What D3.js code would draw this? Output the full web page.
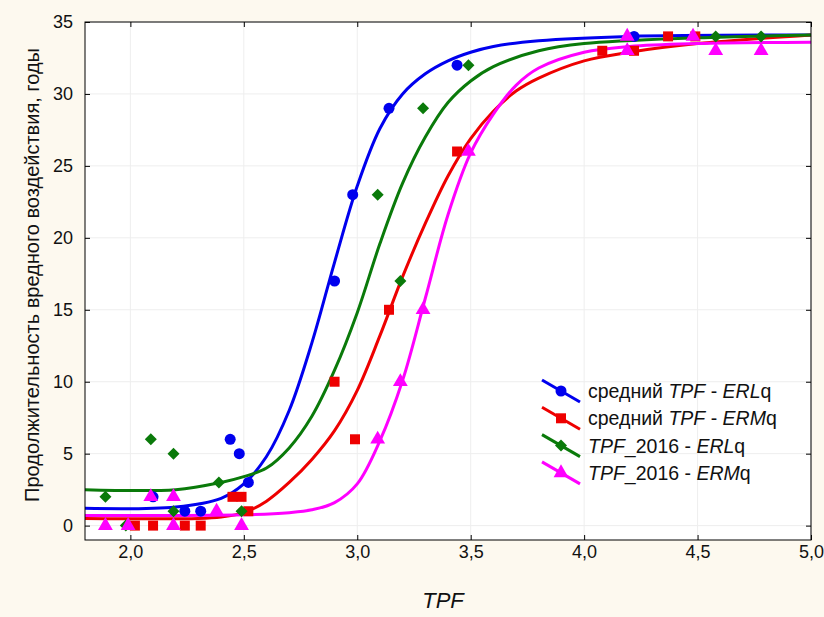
<!DOCTYPE html>
<html>
<head>
<meta charset="utf-8">
<script src="https://cdn.jsdelivr.net/npm/d3@7"></script>
<style>
  body { margin: 0; background: #fdf9ef; }
  svg { display: block; font-family: "Liberation Sans", Arial, sans-serif; }
</style>
</head>
<body>
<svg id="chart"></svg>
<script>
// ticks
const xTicks = [2.0, 2.5, 3.0, 3.5, 4.0, 4.5, 5.0];
const yTicks = [0, 5, 10, 15, 20, 25, 30, 35];

// observed points [TPF, years]
const blueERL = [[2.1,2],[2.24,1],[2.31,1],[2.44,6],[2.48,5],[2.52,3],[2.9,17],[2.98,23],[3.14,29],[3.44,32],[4.22,34]];
const redERM = [[2.02,0],[2.1,0],[2.24,0],[2.31,0],[2.45,2],[2.49,2],[2.52,1],[2.9,10],[2.99,6],[3.14,15],[3.44,26],[4.08,33],[4.22,33],[4.37,34],[4.49,34]];
const greenERL = [[1.89,2],[1.98,0],[2.09,6],[2.19,5],[2.19,1],[2.39,3],[2.49,1],[3.09,23],[3.19,17],[3.29,29],[3.49,32],[4.58,34],[4.78,34]];
const magentaERM = [[1.89,0],[1.99,0],[2.09,2],[2.19,2],[2.19,0],[2.38,1],[2.49,0],[3.09,6],[3.19,10],[3.29,15],[3.49,26],[4.19,34],[4.19,33],[4.48,34],[4.58,33],[4.78,33]];

// fitted curves
const blueFit = [[1.8,1.2],[2.2,1.3],[2.4,1.9],[2.5,2.9],[2.6,4.8],[2.7,8.0],[2.8,12.7],[2.9,18.3],[3.0,23.6],[3.1,27.6],[3.2,30.0],[3.3,31.4],[3.4,32.3],[3.5,32.9],[3.6,33.3],[3.8,33.7],[4.2,34.0],[5.0,34.1]];
const redFit = [[1.8,0.5],[2.3,0.5],[2.4,0.6],[2.5,0.9],[2.6,1.7],[2.7,3.0],[2.8,4.6],[2.9,6.6],[3.0,9.4],[3.1,13.2],[3.2,17.3],[3.3,21.0],[3.4,24.3],[3.5,26.9],[3.6,28.8],[3.7,30.2],[3.8,31.1],[4.0,32.3],[4.2,32.9],[4.5,33.5],[5.0,34.1]];
const greenFit = [[1.8,2.5],[2.2,2.5],[2.4,3.0],[2.5,3.4],[2.6,4.0],[2.7,5.4],[2.8,7.6],[2.9,10.8],[3.0,14.8],[3.1,19.6],[3.2,23.8],[3.3,27.0],[3.4,29.4],[3.5,30.9],[3.6,31.9],[3.8,33.0],[4.0,33.5],[4.5,33.9],[5.0,34.1]];
const magentaFit = [[1.8,0.7],[2.5,0.75],[2.7,0.9],[2.8,1.1],[2.9,1.6],[3.0,2.9],[3.1,5.9],[3.2,10.1],[3.3,15.8],[3.4,21.6],[3.5,25.9],[3.6,28.6],[3.7,30.6],[3.8,31.8],[4.0,32.9],[4.2,33.3],[4.5,33.5],[5.0,33.6]];

const series = [
  {points: blueERL, fit: blueFit, color: "#0000ee", shape: "circle", label: [["средний ", false], ["TPF", true], [" - ", false], ["ERL", true], ["q", false]]},
  {points: redERM, fit: redFit, color: "#ee0000", shape: "square", label: [["средний ", false], ["TPF", true], [" - ", false], ["ERM", true], ["q", false]]},
  {points: greenERL, fit: greenFit, color: "#0a7a0a", shape: "diamond", label: [["TPF", true], ["_2016 - ", false], ["ERL", true], ["q", false]]},
  {points: magentaERM, fit: magentaFit, color: "#ff00ff", shape: "triangle", label: [["TPF", true], ["_2016 - ", false], ["ERM", true], ["q", false]]}
];

const W = 824, H = 617;
const margin = {top: 22, right: 13, bottom: 77, left: 85};
const width = W - margin.left - margin.right;
const height = H - margin.top - margin.bottom;

const svg = d3.select("#chart").attr("width", W).attr("height", H);
const g = svg.append("g").attr("transform", `translate(${margin.left},${margin.top})`);

const x = d3.scaleLinear().domain([1.8, 5.0]).range([0, width]);
const y = d3.scaleLinear().domain([-1, 35]).range([height, 0]);

g.append("rect").attr("width", width).attr("height", height).attr("fill", "white");

// grid
g.append("g").selectAll("line").data(xTicks).enter().append("line")
    .attr("x1", d => x(d)).attr("x2", d => x(d)).attr("y1", 0).attr("y2", height)
    .attr("stroke", "#eeeeee");
g.append("g").selectAll("line").data(yTicks).enter().append("line")
    .attr("y1", d => y(d)).attr("y2", d => y(d)).attr("x1", 0).attr("x2", width)
    .attr("stroke", "#eeeeee");

const fmt = d => d3.format(".1f")(d).replace(".", ",");

// axes, ticks pointing inward
const styleAxis = sel => {
    sel.select(".domain").remove();
    sel.selectAll("line").attr("stroke", "#000");
    sel.selectAll("text").attr("font-size", 18).attr("fill", "#111");
};
g.append("g").attr("transform", `translate(0,${height})`)
    .call(d3.axisBottom(x).tickValues(xTicks).tickFormat(fmt).tickSizeInner(-5).tickPadding(5))
    .call(styleAxis);
g.append("g")
    .call(d3.axisTop(x).tickValues(xTicks).tickFormat("").tickSizeInner(-5))
    .call(styleAxis);
g.append("g")
    .call(d3.axisLeft(y).tickValues(yTicks).tickSizeInner(-5).tickPadding(12))
    .call(styleAxis);
g.append("g").attr("transform", `translate(${width},0)`)
    .call(d3.axisRight(y).tickValues(yTicks).tickFormat("").tickSizeInner(-5))
    .call(styleAxis);

// curves
const line = d3.line().x(d => x(d[0])).y(d => y(d[1])).curve(d3.curveCatmullRom.alpha(0.5));
series.forEach(s => {
    g.append("path").datum(s.fit)
        .attr("d", line)
        .attr("fill", "none")
        .attr("stroke", s.color)
        .attr("stroke-width", 3);
});

const symbols = {
    circle: d3.symbol().type(d3.symbolCircle).size(95),
    square: d3.symbol().type(d3.symbolSquare).size(100),
    diamond: d3.symbol().type(d3.symbolSquare).size(72),
    triangle: d3.symbol().type(d3.symbolTriangle).size(95)
};
function drawMarker(sel, s) {
    sel.attr("d", symbols[s.shape]()).attr("fill", s.color);
    if (s.shape === "diamond") sel.attr("transform", function() { return d3.select(this).attr("transform") + " rotate(45)"; });
}

series.forEach(s => {
    g.append("g").selectAll("path").data(s.points).enter().append("path")
        .attr("transform", d => `translate(${x(d[0])},${y(d[1])})`)
        .call(drawMarker, s);
});

// border
g.append("rect").attr("width", width).attr("height", height)
    .attr("fill", "none").attr("stroke", "#000").attr("stroke-width", 1);

// legend
const legend = svg.append("g").attr("transform", "translate(561,391)");
series.forEach((s, i) => {
    const row = legend.append("g").attr("transform", `translate(0,${i * 27.3})`);
    row.append("line").attr("x1", -19).attr("y1", -11).attr("x2", 19).attr("y2", 11)
        .attr("stroke", s.color).attr("stroke-width", 3);
    row.append("path").attr("transform", "translate(0,0)").call(drawMarker, s);
    const t = row.append("text").attr("x", 27).attr("y", 7).attr("font-size", 19.5).attr("fill", "#111");
    s.label.forEach(p => t.append("tspan").text(p[0]).attr("font-style", p[1] ? "italic" : "normal"));
});

// axis titles
svg.append("text")
    .attr("x", margin.left + width / 2 - 5).attr("y", 608)
    .attr("text-anchor", "middle").attr("font-size", 22).attr("font-style", "italic")
    .attr("fill", "#111").text("TPF");
svg.append("text")
    .attr("transform", `translate(39,${275}) rotate(-90)`)
    .attr("text-anchor", "middle").attr("font-size", 20).attr("fill", "#111")
    .text("Продолжительность вредного воздействия, годы");
</script>
</body>
</html>
